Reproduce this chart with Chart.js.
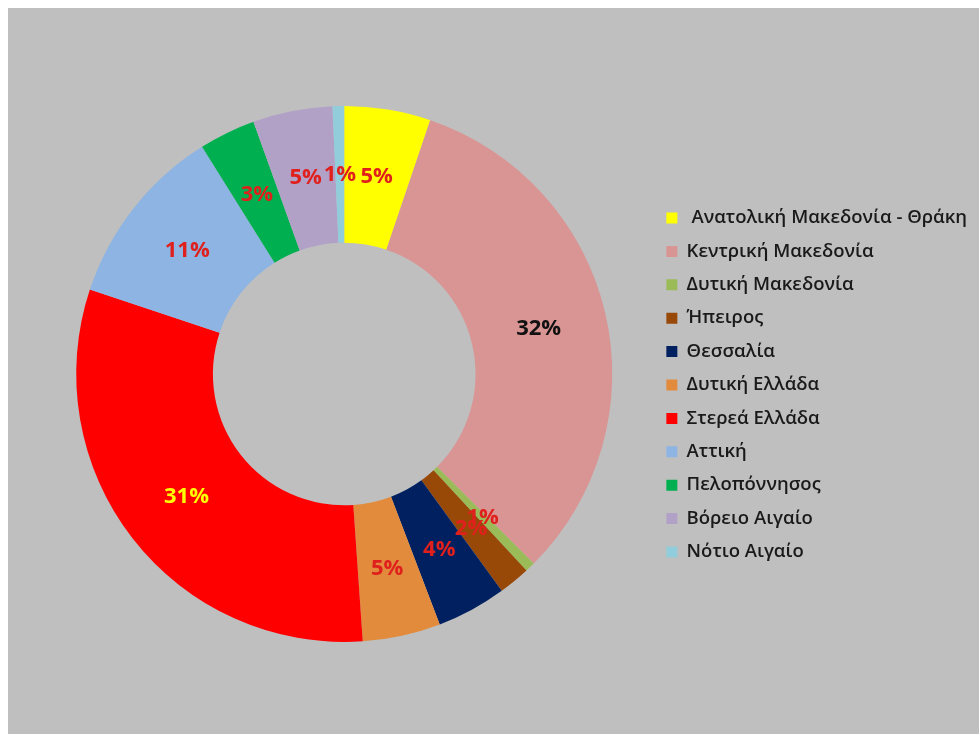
<!DOCTYPE html>
<html>
<head>
<meta charset="utf-8">
<script src="https://cdn.jsdelivr.net/npm/chart.js@4.4.0/dist/chart.umd.min.js"></script>
<style>
  html, body { margin: 0; padding: 0; background: #ffffff; }
  #wrap {
    position: absolute;
    left: 8px;
    top: 8px;
    width: 971px;
    height: 726px;
    background: #bfbfbf;
  }
</style>
</head>
<body>
<div id="wrap">
  <canvas id="regions" width="971" height="726"></canvas>
</div>
<script>
const regionNames = [
  " Ανατολική Μακεδονία - Θράκη",
  "Κεντρική Μακεδονία",
  "Δυτική Μακεδονία",
  "Ήπειρος",
  "Θεσσαλία",
  "Δυτική Ελλάδα",
  "Στερεά Ελλάδα",
  "Αττική",
  "Πελοπόννησος",
  "Βόρειο Αιγαίο",
  "Νότιο Αιγαίο",
];

const shares = [5.2, 32.3, 0.6, 1.9, 4.2, 4.7, 31.2, 11.0, 3.4, 4.8, 0.7];

const sliceColors = [
  "#ffff00",
  "#d99594",
  "#9bbb59",
  "#984807",
  "#002060",
  "#e28b3c",
  "#ff0000",
  "#8db4e2",
  "#00b050",
  "#b2a1c7",
  "#92cddc",
];

const labelColors = [
  "#e0201c", "#111111", "#e0201c", "#e0201c", "#e0201c", "#e0201c",
  "#ffff00", "#e0201c", "#e0201c", "#e0201c", "#e0201c",
];

// percent labels in the middle of the ring
const percentLabels = {
  id: "percentLabels",
  afterDatasetsDraw(chart) {
    const { ctx } = chart;
    const meta = chart.getDatasetMeta(0);
    const values = chart.data.datasets[0].data;
    const total = values.reduce((a, b) => a + b, 0);
    ctx.save();
    ctx.font = "bold 22px 'Open Sans'";
    ctx.textAlign = "center";
    ctx.textBaseline = "middle";
    meta.data.forEach((arc, i) => {
      const pos = arc.tooltipPosition();
      ctx.fillStyle = labelColors[i];
      ctx.fillText(Math.round((values[i] / total) * 100) + "%", pos.x, pos.y);
    });
    ctx.restore();
  },
};

new Chart(document.getElementById("regions"), {
  type: "doughnut",
  data: {
    labels: regionNames,
    datasets: [
      {
        data: shares,
        backgroundColor: sliceColors,
        borderWidth: 0,
      },
    ],
  },
  options: {
    responsive: false,
    devicePixelRatio: 1,
    animation: false,
    cutout: "49%",
    layout: {
      padding: { top: 98, bottom: 92, left: 29, right: 2 },
    },
    plugins: {
      tooltip: { enabled: false },
      legend: {
        position: "right",
        title: { display: true, text: " ", font: { size: 10 }, padding: 5 },
        labels: {
          boxWidth: 11,
          boxHeight: 11,
          padding: 14.9,
          color: "#1a1a1a",
          font: { family: "'Open Sans'", size: 18.5, weight: "600" },
        },
      },
    },
  },
  plugins: [percentLabels],
});
</script>
</body>
</html>
